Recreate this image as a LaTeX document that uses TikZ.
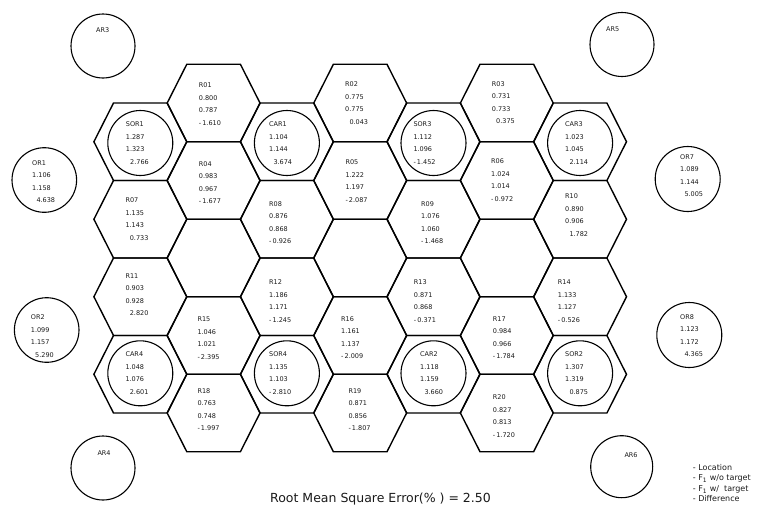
\documentclass[tikz,border=0pt]{standalone}
\usepackage{fontspec}
\setmainfont{DejaVu Sans}
\usepackage{tikz}
\usetikzlibrary{positioning}
\definecolor{cellline}{HTML}{000000}
\definecolor{celltext}{HTML}{1A1A1A}
\newcommand{\posdiff}[1]{\hspace*{4.3pt}#1}
\newcommand{\negdiff}[1]{-\,#1}

\begin{document}
\begin{tikzpicture}[x=1pt,y=-1pt,
  hexline/.style={cellline,line width=1.4pt,line join=miter},
  ringline/.style={cellline,line width=1.1pt},
  cellinfo/.style={celltext,anchor=north west,inner sep=0pt,yshift=2.4pt,align=left,
    font=\fontsize{6.5}{12.5}\selectfont},
  arlabel/.style={celltext,anchor=west,inner sep=0pt,font=\fontsize{6.5}{8}\selectfont}]
\useasboundingbox (0,0) rectangle (758,509);
\foreach \c in {0,2,4,6} \foreach \k in {0,...,3}
  \draw[hexline,shift={({140.3+73.3*\c},{141.75+77.5*\k})}]
    (-46.4,0) -- (-26.8,-38.75) -- (26.8,-38.75) -- (46.4,0) -- (26.8,38.75) -- (-26.8,38.75) -- cycle;
\foreach \c in {1,3,5} \foreach \k in {0,...,4}
  \draw[hexline,shift={({140.3+73.3*\c},{103+77.5*\k})}]
    (-46.4,0) -- (-26.8,-38.75) -- (26.8,-38.75) -- (46.4,0) -- (26.8,38.75) -- (-26.8,38.75) -- cycle;
\draw[ringline] (140.3,143) circle[radius=32.5] (286.9,143) circle[radius=32.5]
  (433.5,143) circle[radius=32.5] (580.1,143) circle[radius=32.5];
\draw[ringline] (140.3,373.3) circle[radius=32.5] (286.9,373.3) circle[radius=32.5]
  (433.5,373.3) circle[radius=32.5] (580.1,373.3) circle[radius=32.5];
\draw[ringline] (44.3,180) circle[radius=32.3] (46.7,330) circle[radius=32.3]
  (687.7,179) circle[radius=32.5] (689.3,335) circle[radius=32.5];
\draw[ringline] (103,46) circle[radius=32] (622,44.5) circle[radius=32]
  (103,468) circle[radius=32] (621.7,466.7) circle[radius=31];
\node[cellinfo] (sor1) at (125.7,124.3) {SOR1\\1.287\\1.323\\\posdiff{2.766}};
\node[cellinfo] (r01) at (198.7,85.3) {R01\\0.800\\0.787\\\negdiff{1.610}};
\node[cellinfo] (car1) at (269,124.3) {CAR1\\1.104\\1.144\\\posdiff{3.674}};
\node[cellinfo] (r02) at (345,84.3) {R02\\0.775\\0.775\\\posdiff{0.043}};
\node[cellinfo] (sor3) at (413.3,124.3) {SOR3\\1.112\\1.096\\\negdiff{1.452}};
\node[cellinfo] (r03) at (491.7,83.7) {R03\\0.731\\0.733\\\posdiff{0.375}};
\node[cellinfo] (car3) at (565,124.3) {CAR3\\1.023\\1.045\\\posdiff{2.114}};
\node[cellinfo] (r04) at (198.7,163.7) {R04\\0.983\\0.967\\\negdiff{1.677}};
\node[cellinfo] (r05) at (345.3,162.3) {R05\\1.222\\1.197\\\negdiff{2.087}};
\node[cellinfo] (r06) at (491,161) {R06\\1.024\\1.014\\\negdiff{0.972}};
\node[cellinfo] (r07) at (125.3,200.3) {R07\\1.135\\1.143\\\posdiff{0.733}};
\node[cellinfo] (r08) at (269,203.7) {R08\\0.876\\0.868\\\negdiff{0.926}};
\node[cellinfo] (r09) at (421,203.7) {R09\\1.076\\1.060\\\negdiff{1.468}};
\node[cellinfo] (r10) at (565,196.3) {R10\\0.890\\0.906\\\posdiff{1.782}};
\node[cellinfo] (r11) at (125.3,275.7) {R11\\0.903\\0.928\\\posdiff{2.820}};
\node[cellinfo] (r12) at (269,282.3) {R12\\1.186\\1.171\\\negdiff{1.245}};
\node[cellinfo] (r13) at (413.7,282.3) {R13\\0.871\\0.868\\\negdiff{0.371}};
\node[cellinfo] (r14) at (557.7,282.3) {R14\\1.133\\1.127\\\negdiff{0.526}};
\node[cellinfo] (r15) at (197.3,319) {R15\\1.046\\1.021\\\negdiff{2.395}};
\node[cellinfo] (r16) at (341,318.7) {R16\\1.161\\1.137\\\negdiff{2.009}};
\node[cellinfo] (r17) at (492.7,318.7) {R17\\0.984\\0.966\\\negdiff{1.784}};
\node[cellinfo] (car4) at (125.3,354.3) {CAR4\\1.048\\1.076\\\posdiff{2.601}};
\node[cellinfo] (sor4) at (269,354.3) {SOR4\\1.135\\1.103\\\negdiff{2.810}};
\node[cellinfo] (car2) at (420,354.3) {CAR2\\1.118\\1.159\\\posdiff{3.660}};
\node[cellinfo] (sor2) at (565,354.3) {SOR2\\1.307\\1.319\\\posdiff{0.875}};
\node[cellinfo] (r18) at (197.3,390.7) {R18\\0.763\\0.748\\\negdiff{1.997}};
\node[cellinfo] (r19) at (348.3,390.7) {R19\\0.871\\0.856\\\negdiff{1.807}};
\node[cellinfo] (r20) at (492.7,397.3) {R20\\0.827\\0.813\\\negdiff{1.720}};
\node[cellinfo] (or1) at (32,162.7) {OR1\\1.106\\1.158\\\posdiff{4.638}};
\node[cellinfo] (or2) at (30.7,317) {OR2\\1.099\\1.157\\\posdiff{5.290}};
\node[cellinfo] (or7) at (680,156.7) {OR7\\1.089\\1.144\\\posdiff{5.005}};
\node[cellinfo] (or8) at (680,316.7) {OR8\\1.123\\1.172\\\posdiff{4.365}};
\node[arlabel] (ar3) at (96,30) {AR3};
\node[arlabel] (ar5) at (606,29) {AR5};
\node[arlabel] (ar4) at (97.3,452.7) {AR4};
\node[arlabel] (ar6) at (624.3,455) {AR6};
\node[celltext,anchor=north west,inner sep=0pt,yshift=2.9pt,align=left,
  font=\fontsize{8}{10.5}\selectfont] (legend) at (692.7,467)
  {- Location\\- F\textsubscript{1} w/o target\\- F\textsubscript{1} w/\ \ target\\- Difference};
\node[celltext,font=\fontsize{12.5}{14}\selectfont] (rmse) at (380.5,499)
  {Root Mean Square Error(\% ) = 2.50};
\end{tikzpicture}
\end{document}
